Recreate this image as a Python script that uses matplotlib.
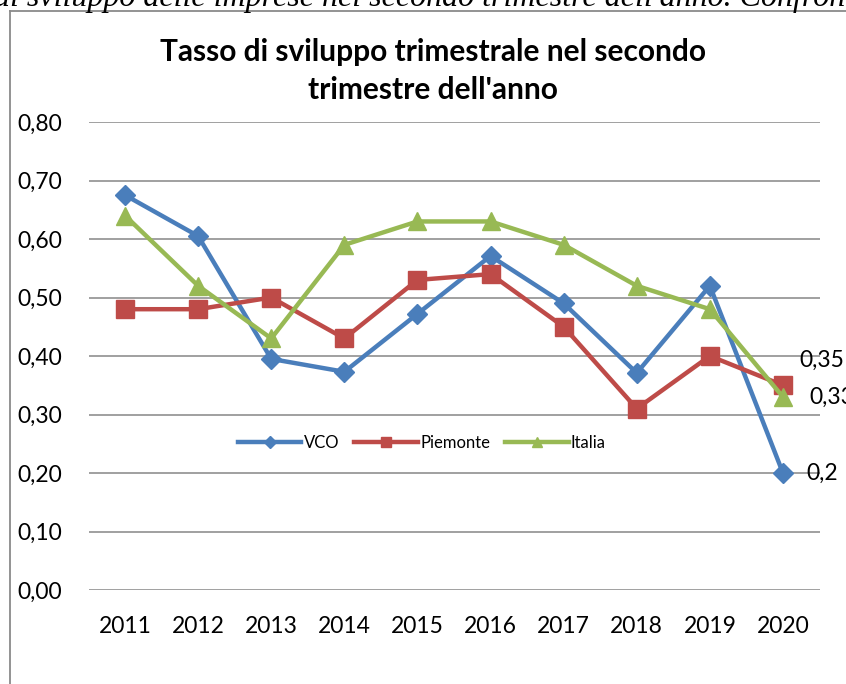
import matplotlib.pyplot as plt
from matplotlib.lines import Line2D

years = ["2011", "2012", "2013", "2014", "2015", "2016", "2017", "2018", "2019", "2020"]
vco = [0.675, 0.605, 0.395, 0.373, 0.472, 0.571, 0.49, 0.371, 0.52, 0.20]
piemonte = [0.48, 0.48, 0.50, 0.43, 0.53, 0.54, 0.45, 0.31, 0.40, 0.35]
italia = [0.64, 0.52, 0.43, 0.59, 0.63, 0.63, 0.59, 0.52, 0.48, 0.33]
yticks = [0.0, 0.1, 0.2, 0.3, 0.4, 0.5, 0.6, 0.7, 0.8]

W, H = 846, 684
plt.rcParams["font.family"] = ["Lato", "DejaVu Sans"]

fig = plt.figure(figsize=(W / 100, H / 100), dpi=100)

# frame of the embedded chart and cut-off caption above it
fig.add_artist(Line2D([10 / W, 10 / W], [0, 1 - 11 / H], color="#8a8a8a", lw=1.3))
fig.add_artist(Line2D([10 / W, 1], [1 - 11 / H, 1 - 11 / H], color="#8a8a8a", lw=1.3))
fig.text(-6 / W, 1 - 6 / H, "di sviluppo delle imprese nel secondo trimestre dell'anno. Confronto",
         family="Liberation Serif", style="italic", fontsize=23, va="baseline", ha="left")

ax = fig.add_axes([88.5 / W, 1 - 590 / H, 731 / W, 468 / H])
x = list(range(len(years)))

ax.plot(x, vco, color="#4a7ebb", lw=3.2, marker="D", ms=10.5, label="VCO")
ax.plot(x, piemonte, color="#be4b48", lw=3.2, marker="s", ms=13, label="Piemonte")
ax.plot(x, italia, color="#98b954", lw=3.2, marker="^", ms=13, label="Italia")

ax.set_xlim(-0.5, len(years) - 0.5)
ax.set_ylim(0, 0.8)
ax.set_yticks(yticks)
ax.set_yticklabels([("%.2f" % v).replace(".", ",") for v in yticks], fontsize=16.5)
ax.set_xticks(x)
ax.set_xticklabels(years, fontsize=16.5)
ax.tick_params(axis="both", length=0)
ax.tick_params(axis="y", pad=19)
ax.tick_params(axis="x", pad=19)
ax.grid(axis="y", color="#868686", lw=1.1)
ax.set_axisbelow(True)
for s in ax.spines.values():
    s.set_visible(False)

# data labels for the last year
last = len(years) - 1
ax.annotate("0,35", (last, piemonte[last]), xytext=(12, 18), textcoords="offset points",
            fontsize=16.5, va="center", ha="left")
ax.annotate("0,33", (last, italia[last]), xytext=(19, 0), textcoords="offset points",
            fontsize=16.5, va="center", ha="left")
ax.annotate("0,2", (last, vco[last]), xytext=(17, 0), textcoords="offset points",
            fontsize=16.5, va="center", ha="left")

leg = ax.legend(loc="center", bbox_to_anchor=(422 / W, 1 - 443 / H), bbox_transform=fig.transFigure,
                ncol=3, frameon=False, fontsize=12, handlelength=3.8, handletextpad=0.15,
                columnspacing=0.9, markerscale=0.6)

fig.text(433 / W, 1 - 71 / H, "Tasso di sviluppo trimestrale nel secondo\ntrimestre dell'anno",
         fontsize=21.5, fontweight="bold", ha="center", va="center", linespacing=1.45)

fig.savefig("out.png", dpi=100)
